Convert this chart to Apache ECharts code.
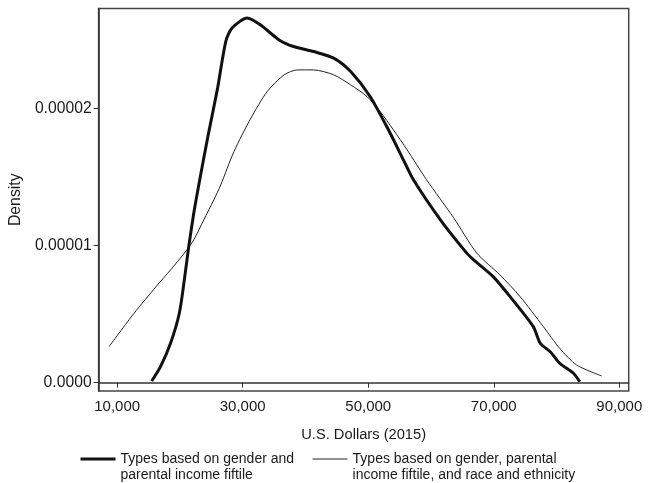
<!DOCTYPE html>
<html>
<head>
<meta charset="utf-8">
<title>Density of U.S. Dollars (2015)</title>
<script src="https://cdn.jsdelivr.net/npm/echarts@6/dist/echarts.min.js"></script>
<style>
  html, body { margin: 0; padding: 0; background: #fff; }
  #chart { width: 648px; height: 483px; }
</style>
</head>
<body>
<div id="chart"></div>
<script>
// Series names (legend text)
const seriesNames = [
  'Types based on gender and\nparental income fiftile',
  'Types based on gender, parental\nincome fiftile, and race and ethnicity'
];

// Kernel density: types by gender and parental income fiftile
const genderX = [15500, 16900, 18500, 19900, 20700, 21400, 22200, 23000, 24400, 26000,
  27300, 28300, 30700, 32800, 35800, 38100, 41300, 44500, 47200, 50300,
  53500, 55600, 57200, 61500, 65700, 66800, 69900, 72600, 76300, 77400,
  79000, 80500, 82700, 83700];
const genderY = [0.12e-6, 1.17e-6, 2.88e-6, 5.07e-6, 7.50e-6, 9.93e-6, 12.36e-6, 14.43e-6, 17.84e-6, 21.49e-6,
  24.89e-6, 25.87e-6, 26.60e-6, 26.11e-6, 25.01e-6, 24.53e-6, 24.16e-6, 23.68e-6, 22.70e-6, 20.88e-6,
  18.20e-6, 16.26e-6, 14.80e-6, 11.88e-6, 9.45e-6, 8.96e-6, 7.74e-6, 6.28e-6, 4.09e-6, 2.88e-6,
  2.26e-6, 1.42e-6, 0.69e-6, 0.07e-6];

// Kernel density: types by gender, parental income fiftile, and race and ethnicity
const raceX = [8700, 12700, 16200, 18500, 20700, 22200, 23800, 25400, 26500, 28600,
  31300, 33900, 36600, 38700, 41300, 44500, 47200, 49800, 51900, 54000,
  56200, 59300, 63600, 67300, 71000, 74200, 77900, 80500, 83200, 87200];
const raceY = [2.63e-6, 5.07e-6, 7.01e-6, 8.23e-6, 9.45e-6, 10.42e-6, 11.88e-6, 13.34e-6, 14.43e-6, 16.86e-6,
  19.30e-6, 21.24e-6, 22.46e-6, 22.82e-6, 22.82e-6, 22.46e-6, 21.73e-6, 20.88e-6, 19.78e-6, 18.45e-6,
  16.99e-6, 14.80e-6, 12.04e-6, 9.45e-6, 7.86e-6, 6.28e-6, 4.09e-6, 2.51e-6, 1.29e-6, 0.49e-6];

// Axis tick positions and labels
const xTicks = [10000, 30000, 50000, 70000, 90000];
const yTicks = [0, 0.00001, 0.00002];
const yTickLabels = ['0.0000', '0.00001', '0.00002'];

const FONT = '"Liberation Sans", Arial, Helvetica, sans-serif';
const INK = '#1a1a1a';

const pairs = (xs, ys) => xs.map((x, i) => [x, ys[i]]);

const chart = echarts.init(document.getElementById('chart'), null, { renderer: 'canvas' });

chart.setOption({
  animation: false,
  backgroundColor: '#ffffff',
  grid: {
    left: 97.7, right: 19.3, top: 8.5, bottom: 92,
    show: true, borderColor: '#444', borderWidth: 1.5, backgroundColor: 'transparent'
  },
  xAxis: {
    type: 'value',
    min: 7040,
    max: 91500,
    name: 'U.S. Dollars (2015)',
    nameLocation: 'middle',
    nameGap: 36,
    nameTextStyle: { fontFamily: FONT, fontSize: 14.7, color: INK },
    axisLine: { show: true, lineStyle: { color: '#333', width: 1.5 } },
    axisTick: { show: true, length: 5, customValues: xTicks, lineStyle: { color: '#333', width: 1 } },
    axisLabel: {
      customValues: xTicks,
      margin: 8,
      fontFamily: FONT, fontSize: 15, color: INK,
      formatter: v => v.toLocaleString('en-US')
    },
    splitLine: { show: false }
  },
  yAxis: {
    type: 'value',
    min: -0.000000606,
    max: 0.0000273,
    name: 'Density',
    nameLocation: 'middle',
    nameGap: 73,
    nameRotate: 90,
    nameTextStyle: { fontFamily: FONT, fontSize: 15.8, color: INK },
    axisLine: { show: true, lineStyle: { color: '#333', width: 1.5 } },
    axisTick: { show: true, length: 5, customValues: yTicks, lineStyle: { color: '#333', width: 1 } },
    axisLabel: {
      customValues: yTicks,
      margin: 7,
      fontFamily: FONT, fontSize: 15.7, color: INK,
      formatter: v => yTickLabels[yTicks.findIndex(t => Math.abs(t - v) < 1e-9)] ?? ''
    },
    splitLine: { show: false }
  },
  legend: {
    left: 79,
    top: 435,
    padding: 0,
    orient: 'horizontal',
    itemWidth: 35,
    itemHeight: 14,
    itemGap: 18,
    // keep the first text line level with the key line
    formatter: name => '\n' + name,
    itemStyle: { opacity: 0 },
    lineStyle: { width: 'inherit' },
    textStyle: { fontFamily: FONT, fontSize: 14, color: INK, lineHeight: 16 },
    data: seriesNames
  },
  series: [
    {
      name: seriesNames[0],
      type: 'line',
      data: pairs(genderX, genderY),
      smooth: 0.25,
      symbol: 'none',
      lineStyle: { color: '#111', width: 3 },
      itemStyle: { color: '#111' },
      z: 3
    },
    {
      name: seriesNames[1],
      type: 'line',
      data: pairs(raceX, raceY),
      smooth: 0.25,
      symbol: 'none',
      lineStyle: { color: '#222', width: 1 },
      itemStyle: { color: '#222' },
      z: 2
    }
  ]
});
</script>
</body>
</html>
